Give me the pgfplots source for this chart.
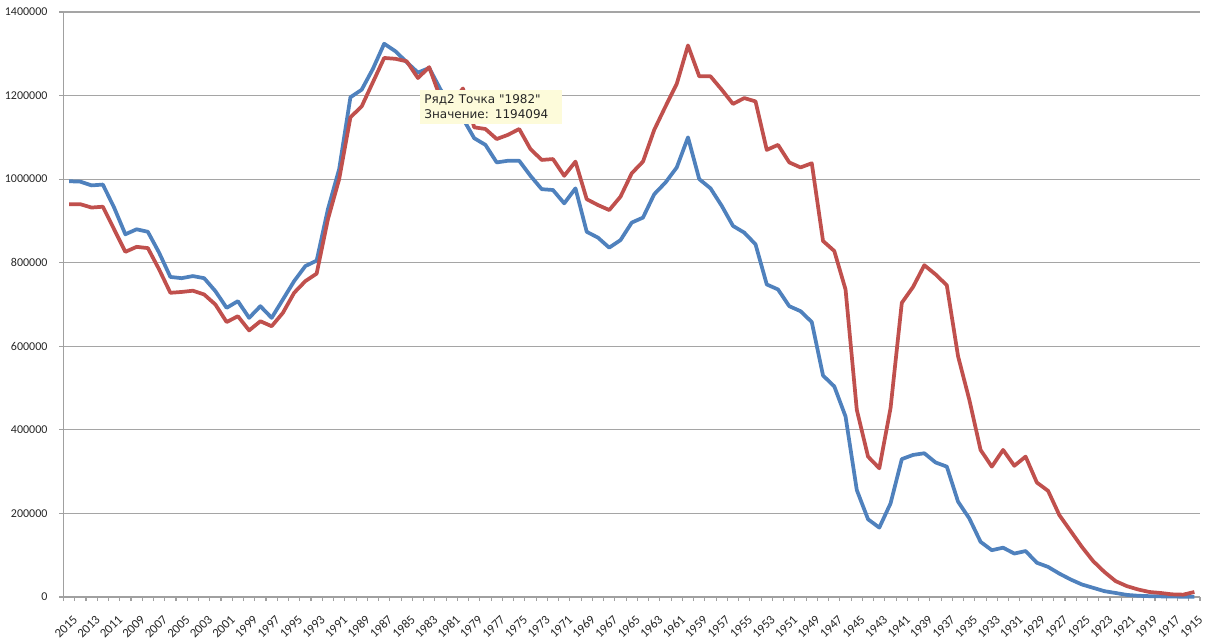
\documentclass[border=0pt]{standalone}
\usepackage{fontspec}
\setmainfont{Carlito}
\newfontfamily\tipfont{DejaVu Sans}
\usepackage{pgfplots}
\usepackage{pgfplotstable}
\pgfplotsset{compat=1.18}
\definecolor{exblue}{RGB}{79,129,189}
\definecolor{exred}{RGB}{192,80,77}
\definecolor{axgray}{RGB}{160,160,160}
\definecolor{gridgray}{RGB}{165,165,165}
\definecolor{tipfill}{RGB}{253,251,218}

\pgfplotstableread{
year blue red
2015 995000 940000
2014 994000 940000
2013 985000 932000
2012 987000 934000
2011 932000 880000
2010 868000 826000
2009 880000 838000
2008 874000 835000
2007 824000 784000
2006 766000 728000
2005 763000 730000
2004 768000 733000
2003 763000 724000
2002 732000 700000
2001 692000 658000
2000 708000 672000
1999 668000 638000
1998 696000 660000
1997 668000 648000
1996 712000 680000
1995 756000 728000
1994 792000 756000
1993 805000 774000
1992 928000 904000
1991 1024000 1000000
1990 1196000 1148000
1989 1214000 1174000
1988 1264000 1232000
1987 1324000 1290000
1986 1306000 1288000
1985 1280000 1282000
1984 1255000 1242000
1983 1266000 1268000
1982 1215000 1194094
1981 1175000 1182000
1980 1145000 1217000
1979 1098000 1124000
1978 1082000 1120000
1977 1040000 1096000
1976 1044000 1106000
1975 1044000 1120000
1974 1008000 1072000
1973 976000 1046000
1972 974000 1048000
1971 942000 1008000
1970 978000 1042000
1969 874000 952000
1968 860000 938000
1967 836000 926000
1966 854000 958000
1965 896000 1014000
1964 908000 1042000
1963 964000 1118000
1962 992000 1174000
1961 1028000 1228000
1960 1100000 1320000
1959 1000000 1246000
1958 978000 1246000
1957 936000 1214000
1956 888000 1180000
1955 872000 1194000
1954 844000 1186000
1953 748000 1070000
1952 736000 1082000
1951 696000 1040000
1950 684000 1028000
1949 658000 1038000
1948 530000 852000
1947 504000 828000
1946 432000 736000
1945 256000 448000
1944 186000 336000
1943 166000 308000
1942 224000 452000
1941 330000 704000
1940 340000 742000
1939 344000 794000
1938 322000 772000
1937 312000 746000
1936 228000 576000
1935 188000 472000
1934 132000 352000
1933 112000 312000
1932 118000 352000
1931 104000 314000
1930 110000 336000
1929 82000 274000
1928 72000 254000
1927 56000 196000
1926 42000 158000
1925 30000 120000
1924 22000 86000
1923 14000 60000
1922 9600 38000
1921 5000 26000
1920 3000 18000
1919 2000 12000
1918 1500 9600
1917 1000 6400
1916 800 5600
1915 500 12000
}\births

\begin{document}
\begin{tikzpicture}
\begin{axis}[
  scale only axis,
  width=852.4pt, height=438.75pt,
  xmin=-0.5, xmax=100.5,
  ymin=0, ymax=1400000,
  clip=false,
  axis x line*=bottom, axis y line*=left,
  axis line style={draw=axgray, line width=0.8pt, -},
  ytick={0,200000,400000,600000,800000,1000000,1200000,1400000},
  scaled y ticks=false,
  /pgf/number format/.cd, fixed, 1000 sep={}, assume math mode=true, /pgfplots/.cd,
  ymajorgrids,
  grid style={draw=gridgray, line width=0.8pt},
  xtick={0,2,...,100},
  xticklabel={\pgfmathparse{int(2015-\tick)}\pgfmathresult},
  minor xtick={-0.5,0.5,...,100.5},
  xtick align=outside, ytick align=outside,
  major tick length=3pt, minor tick length=3pt,
  major x tick style={draw=none},
  minor x tick style={draw=axgray, line width=0.8pt},
  major y tick style={draw=axgray, line width=0.8pt},
  tick label style={text=black!85},
  yticklabel style={font=\fontsize{9}{10}\selectfont, anchor=east, xshift=-5.5pt},
  xticklabel style={font=\fontsize{9.6}{10}\selectfont, rotate=45, anchor=east, xshift=-2pt, yshift=-12pt},
]
\addplot[exblue, line width=2.8pt, line join=round] table[x expr=2015-\thisrow{year}, y=blue] {\births};
\addplot[exred, line width=2.8pt, line join=round] table[x expr=2015-\thisrow{year}, y=red] {\births};
\node[anchor=north west, fill=tipfill, inner xsep=3pt, inner ysep=4pt, text width=100pt, align=left,
      font=\tipfont\fontsize{9}{11.25}\selectfont, text=black!85]
  at (axis cs:31.2,1215000) {Ряд2 Точка "1982"\\Значение: 1194094};
\coordinate (sw) at (rel axis cs:0,0);
\coordinate (ne) at (rel axis cs:1,1);
\end{axis}
\pgfresetboundingbox
\useasboundingbox ([shift={(-47.6pt,-31.5pt)}]sw) rectangle ([shift={(7.5pt,9pt)}]ne);
\end{tikzpicture}
\end{document}
